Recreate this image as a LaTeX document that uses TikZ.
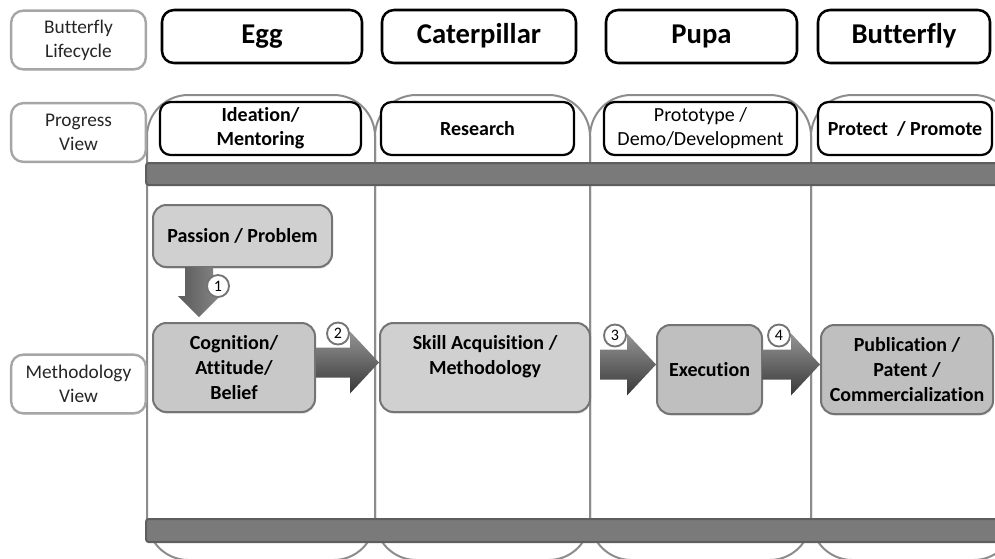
\documentclass[tikz,border=0pt]{standalone}
\usepackage{fontspec}
\setmainfont{Carlito}[Ligatures=NoCommon]
\usetikzlibrary{calc,shadows}

\definecolor{lanegray}{HTML}{8C8C8C}
\definecolor{labelgray}{HTML}{A6A6A6}
\definecolor{bargray}{HTML}{7A7A7A}
\definecolor{bardark}{HTML}{5E5E5E}
\definecolor{boxedge}{HTML}{747474}
\definecolor{boxlight}{HTML}{D0D0D0}
\definecolor{boxmid}{HTML}{C8C8C8}
\definecolor{boxdark}{HTML}{BFBFBF}

\begin{document}
\begin{tikzpicture}[x=0.75pt,y=-0.75pt,
  viewlabel/.style={draw=labelgray,line width=1.8pt,fill=white,rounded corners=9pt,
    minimum width=101pt,minimum height=44pt,inner sep=0pt,align=center,
    font=\fontsize{14.5}{18}\selectfont,text=black!85,
    drop shadow={opacity=0.15,shadow xshift=0.5pt,shadow yshift=-1pt}},
  stage/.style={draw=black,line width=1.9pt,fill=white,rounded corners=9pt,
    minimum height=39.75pt,inner sep=0pt,text height=15pt,text depth=4.5pt,
    font=\fontsize{21.5}{24}\selectfont\bfseries},
  progress/.style={draw=black,line width=1.7pt,fill=white,rounded corners=8pt,
    minimum height=39.75pt,inner sep=0pt,align=center,
    font=\fontsize{15}{18}\selectfont\bfseries},
  method/.style={draw=boxedge,line width=1.5pt,rounded corners=10pt,inner sep=0pt,
    align=center,font=\fontsize{15}{19}\selectfont\bfseries,
    drop shadow={opacity=0.25,shadow xshift=0.6pt,shadow yshift=-1.2pt}},
  lane/.style={draw=lanegray,line width=1.5pt,rounded corners=31pt},
  bar/.style={draw=bardark,line width=1.5pt,fill=bargray,rounded corners=2pt},
  flow/.style={top color=black!42,bottom color=black!78},
  downflow/.style={left color=black!65,right color=black!47},
  badge/.style={circle,draw=boxedge,line width=1.4pt,fill=white,inner sep=0pt,
    minimum size=16.5pt,font=\fontsize{12}{13}\selectfont}]
  \useasboundingbox (0,0) rectangle (995,558);

  % swim lanes and bars
  \foreach \xa/\xb in {147/375,375/590,590/811,811/1015}
    \draw[lane] (\xa,95) rectangle (\xb,560);
  \draw[bar] (146,163) rectangle (1010,185);
  \draw[bar] (146,519) rectangle (1010,542);

  % row labels
  \node[viewlabel] (lifecycle) at (78.5,40) {Butterfly\\Lifecycle};
  \node[viewlabel] (progressview) at (78.5,132.5) {Progress\\View};
  \node[viewlabel] (methodview) at (78.5,384) {Methodology\\View};

  % lifecycle stages
  \node[stage,minimum width=150pt] (egg) at (262,36.5) {Egg};
  \node[stage,minimum width=145.5pt] (caterpillar) at (479,36.5) {Caterpillar};
  \node[stage,minimum width=143.25pt] (pupa) at (701.5,36.5) {Pupa};
  \node[stage,minimum width=129pt] (butterfly) at (904,36.5) {Butterfly};

  % progress view
  \node[progress,minimum width=150.75pt] (ideation) at (260.5,128.5) {Ideation/\\Mentoring};
  \node[progress,minimum width=144.75pt] (research) at (477.5,128.5) {Research};
  \node[progress,minimum width=144.75pt,font=\fontsize{15}{18}\selectfont]
    (prototype) at (700.5,128.5) {Prototype /\\Demo/Development};
  \node[progress,minimum width=130.5pt] (protect) at (905,128.5) {Protect \ / Promote};

  % methodology view
  \node[method,fill=boxlight,minimum width=134.25pt,minimum height=46.5pt]
    (passion) at (242.5,236) {Passion / Problem};
  \node[method,fill=boxmid,minimum width=121.5pt,minimum height=66.75pt]
    (cognition) at (234,367.5) {Cognition/\\Attitude/\\Belief};
  \node[method,fill=boxlight,minimum width=157.5pt,minimum height=66.75pt]
    (skill) at (485,367.5) {Skill Acquisition /\\Methodology\\\mbox{}};
  \node[method,fill=boxdark,minimum width=78.75pt,minimum height=66.75pt]
    (execution) at (709.5,369.5) {Execution};
  \node[method,fill=boxdark,minimum width=129pt,minimum height=66.75pt]
    (publication) at (907,369.5) {Publication /\\Patent /\\Commercialization};

  % step arrows
  \begin{scope}[shift={($(cognition.north)+(-35,-5)$)}]
    \shade[downflow] (0,0) -- (-21,-21) -- (-14,-21) -- (-14,-50) -- (14,-50)
      -- (14,-21) -- (21,-21) -- cycle;
    \node[badge] (badge1) at (19,-31) {1};
  \end{scope}
  \foreach \dest/\len/\num in {skill/63/2,execution/56/3,publication/58/4} {
    \begin{scope}[shift={($(\dest.west)+(0,-5)$)}]
      \shade[flow] (0,0) -- (-29,-31) -- (-29,-15) -- (-\len,-15) -- (-\len,15)
        -- (-29,15) -- (-29,31) -- cycle;
      \node[badge] (badge\num) at (-41,-29) {\num};
    \end{scope}
  }
\end{tikzpicture}
\end{document}
